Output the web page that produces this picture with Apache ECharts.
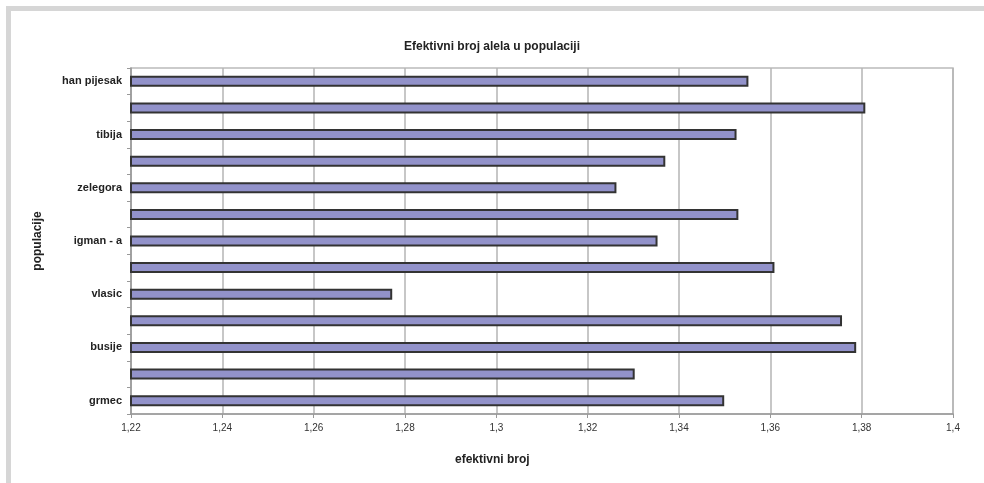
<!DOCTYPE html>
<html>
<head>
<meta charset="utf-8">
<script src="https://cdn.jsdelivr.net/npm/echarts@6/dist/echarts.min.js"></script>
<style>html,body{margin:0;padding:0;background:#fff}#c{width:984px;height:483px}</style>
</head>
<body>
<div id="c"></div>
<script>
// bottom to top
var categories = ['grmec', ' ', 'busije', '  ', 'vlasic', '   ', 'igman - a', '    ', 'zelegora', '     ', 'tibija', '      ', 'han pijesak'];
var values = [1.3499, 1.3303, 1.3788, 1.3757, 1.2772, 1.3609, 1.3353, 1.3530, 1.3263, 1.3370, 1.3526, 1.3808, 1.3552];
var xMin = 1.22, xMax = 1.4, xStep = 0.02;
var titleText = 'Efektivni broj alela u populaciji';
var xName = 'efektivni broj';
var yName = 'populacije';

var font = '"Liberation Sans", Arial, sans-serif';
var chart = echarts.init(document.getElementById('c'), null, {renderer: 'canvas'});
chart.setOption({
  animation: false,
  backgroundColor: '#fff',
  graphic: [
    {type: 'rect', shape: {x: 6, y: 6, width: 978, height: 5}, style: {fill: '#d6d6d6'}, z: 0},
    {type: 'rect', shape: {x: 6, y: 6, width: 5, height: 477}, style: {fill: '#d6d6d6'}, z: 0},
    {type: 'text', left: 455, top: 454, style: {text: xName, font: 'bold 12px ' + font, fill: '#222'}}
  ],
  title: {
    text: titleText, left: 'center', top: 36,
    textStyle: {fontFamily: font, fontSize: 12, fontWeight: 'bold', color: '#222'}
  },
  grid: {left: 131, right: 31, top: 68, bottom: 69, show: true, borderColor: '#bbb', borderWidth: 1.5, backgroundColor: 'transparent'},
  xAxis: {
    type: 'value', min: xMin, max: xMax, interval: xStep,
    axisLine: {show: true, lineStyle: {color: '#999', width: 1.5}},
    axisTick: {show: true, length: 4, lineStyle: {color: '#999'}},
    splitLine: {show: true, lineStyle: {color: '#b5b5b5', width: 1.5}},
    axisLabel: {
      fontFamily: font, fontSize: 10, color: '#333', margin: 9,
      formatter: function (v) { return String(Math.round(v * 100) / 100).replace('.', ','); }
    }
  },
  yAxis: {
    type: 'category', data: categories,
    name: yName, nameLocation: 'middle', nameGap: 87, nameRotate: 90,
    nameTextStyle: {fontFamily: font, fontSize: 12, fontWeight: 'bold', color: '#222'},
    axisLine: {show: true, lineStyle: {color: '#999', width: 1.5}},
    axisTick: {show: true, length: 4, inside: false, lineStyle: {color: '#999'}},
    axisLabel: {fontFamily: font, fontSize: 11, fontWeight: 'bold', color: '#222', margin: 9, interval: 0}
  },
  series: [{
    type: 'bar', data: values, barWidth: 11,
    itemStyle: {color: '#9292ca', borderColor: '#333', borderWidth: 2}
  }]
});
</script>
</body>
</html>
